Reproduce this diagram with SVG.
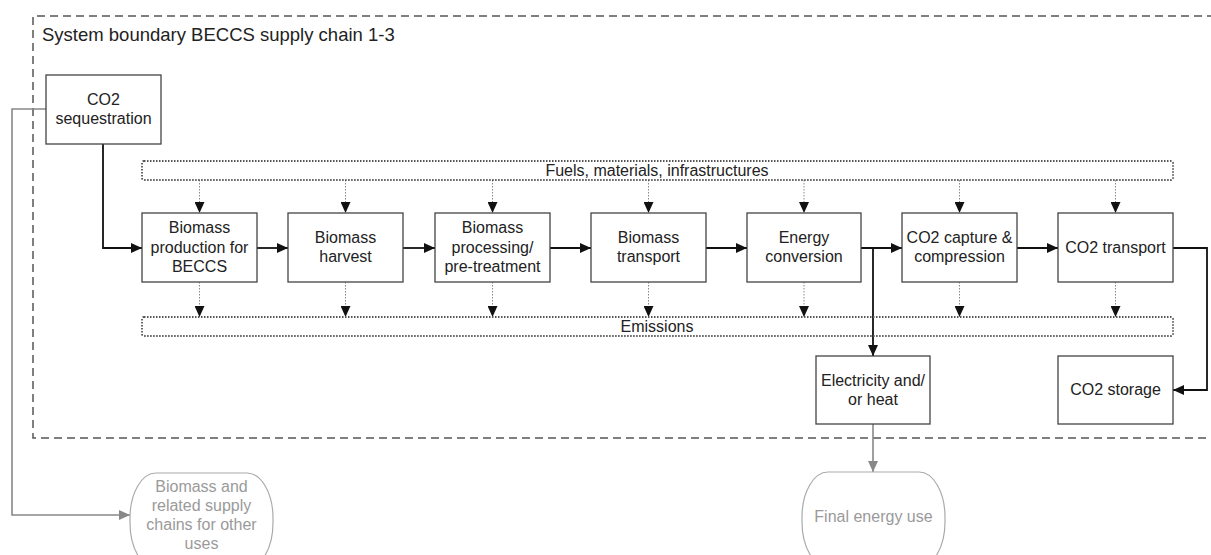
<svg xmlns="http://www.w3.org/2000/svg" width="1211" height="555" viewBox="0 0 1211 555">
<style>
text{font-family:"Liberation Sans",Arial,sans-serif;font-size:16px;fill:#222;text-anchor:middle}
.box{fill:#fff;stroke:#444;stroke-width:1.3}
.term{fill:#fff;stroke:#aaa;stroke-width:1.2}
.gt{fill:#9a9a9a}
.bar{fill:none;stroke:#555;stroke-width:1.8;stroke-dasharray:1.5 1.5}
.bound{fill:none;stroke:#555;stroke-width:1.5;stroke-dasharray:8 5}
.c{fill:none;stroke:#111;stroke-width:1.8}
.g{fill:none;stroke:#888;stroke-width:1.6}
.d{fill:none;stroke:#888;stroke-width:1;stroke-dasharray:1.5 1.5}
</style>
<defs>
<marker id="ab" markerUnits="userSpaceOnUse" markerWidth="12" markerHeight="10" refX="11" refY="5" orient="auto"><path d="M0,0 L11,5 L0,10 Z" fill="#111"/></marker>
<marker id="ag" markerUnits="userSpaceOnUse" markerWidth="12" markerHeight="10" refX="11" refY="5" orient="auto"><path d="M0,0 L11,5 L0,10 Z" fill="#888"/></marker>
</defs>
<rect width="1211" height="555" fill="#fff"/>
<g id="boundary">
<path class="bound" d="M1215 16 H33 V438 H1215"/>
<text x="42" y="41" style="font-size:18.5px;text-anchor:start">System boundary BECCS supply chain 1-3</text>
</g>
<g id="connectors">
<path class="g" d="M46 109 H12 V515 H130" marker-end="url(#ag)"/>
<path class="c" d="M103 144 V248 H142" marker-end="url(#ab)"/>
<path class="c" d="M257 248 H288" marker-end="url(#ab)"/>
<path class="c" d="M403 248 H435" marker-end="url(#ab)"/>
<path class="c" d="M550 248 H591" marker-end="url(#ab)"/>
<path class="c" d="M706 248 H747" marker-end="url(#ab)"/>
<path class="c" d="M861 248 H902" marker-end="url(#ab)"/>
<path class="c" d="M873 248 V356" marker-end="url(#ab)"/>
<path class="c" d="M1017 248 H1058" marker-end="url(#ab)"/>
<path class="c" d="M1173 248 H1207 V390 H1173" marker-end="url(#ab)"/>
<path class="g" d="M873 424 V472" marker-end="url(#ag)"/>
<path class="d" d="M199.5 180 V213" marker-end="url(#ab)"/>
<path class="d" d="M345.5 180 V213" marker-end="url(#ab)"/>
<path class="d" d="M492.5 180 V213" marker-end="url(#ab)"/>
<path class="d" d="M648.5 180 V213" marker-end="url(#ab)"/>
<path class="d" d="M804 180 V213" marker-end="url(#ab)"/>
<path class="d" d="M959.5 180 V213" marker-end="url(#ab)"/>
<path class="d" d="M1115.5 180 V213" marker-end="url(#ab)"/>
<path class="d" d="M199.5 282 V317" marker-end="url(#ab)"/>
<path class="d" d="M345.5 282 V317" marker-end="url(#ab)"/>
<path class="d" d="M492.5 282 V317" marker-end="url(#ab)"/>
<path class="d" d="M648.5 282 V317" marker-end="url(#ab)"/>
<path class="d" d="M804 282 V317" marker-end="url(#ab)"/>
<path class="d" d="M959.5 282 V317" marker-end="url(#ab)"/>
<path class="d" d="M1115.5 282 V317" marker-end="url(#ab)"/>
</g>
<g id="fuels">
<rect class="bar" x="142" y="161" width="1031" height="19" rx="2"/>
<text x="657" y="176">Fuels, materials, infrastructures</text>
</g>
<g id="emissions">
<rect class="bar" x="142" y="317" width="1031" height="19" rx="2"/>
<text x="657" y="332">Emissions</text>
</g>
<g id="co2seq">
<rect class="box" x="46" y="75" width="115" height="69"/>
<text x="103.5" y="105">CO2</text>
<text x="103.5" y="124">sequestration</text>
</g>
<g id="prod">
<rect class="box" x="142" y="213" width="115" height="69"/>
<text x="199.5" y="233">Biomass</text>
<text x="199.5" y="253">production for</text>
<text x="199.5" y="272">BECCS</text>
</g>
<g id="harvest">
<rect class="box" x="288" y="213" width="115" height="69"/>
<text x="345.5" y="243">Biomass</text>
<text x="345.5" y="262">harvest</text>
</g>
<g id="processing">
<rect class="box" x="435" y="213" width="115" height="69"/>
<text x="492.5" y="233">Biomass</text>
<text x="492.5" y="253">processing/</text>
<text x="492.5" y="272">pre-treatment</text>
</g>
<g id="btransport">
<rect class="box" x="591" y="213" width="115" height="69"/>
<text x="648.5" y="243">Biomass</text>
<text x="648.5" y="262">transport</text>
</g>
<g id="energy">
<rect class="box" x="747" y="213" width="114" height="69"/>
<text x="804" y="243">Energy</text>
<text x="804" y="262">conversion</text>
</g>
<g id="capture">
<rect class="box" x="902" y="213" width="115" height="69"/>
<text x="959.5" y="243">CO2 capture &amp;</text>
<text x="959.5" y="262">compression</text>
</g>
<g id="co2transport">
<rect class="box" x="1058" y="213" width="115" height="69"/>
<text x="1115.5" y="253">CO2 transport</text>
</g>
<g id="electricity">
<rect class="box" x="816" y="356" width="114" height="68"/>
<text x="873" y="386">Electricity and/</text>
<text x="873" y="405">or heat</text>
</g>
<g id="storage">
<rect class="box" x="1058" y="356" width="115" height="68"/>
<text x="1115.5" y="395">CO2 storage</text>
</g>
<g id="final">
<rect class="term" x="802" y="472" width="143" height="95" rx="26" ry="45"/>
<text class="gt" x="873.5" y="522">Final energy use</text>
</g>
<g id="other">
<rect class="term" x="130" y="473" width="143" height="95" rx="26" ry="45"/>
<text class="gt" x="201.5" y="492">Biomass and</text>
<text class="gt" x="201.5" y="511">related supply</text>
<text class="gt" x="201.5" y="530">chains for other</text>
<text class="gt" x="201.5" y="549">uses</text>
</g>
</svg>
